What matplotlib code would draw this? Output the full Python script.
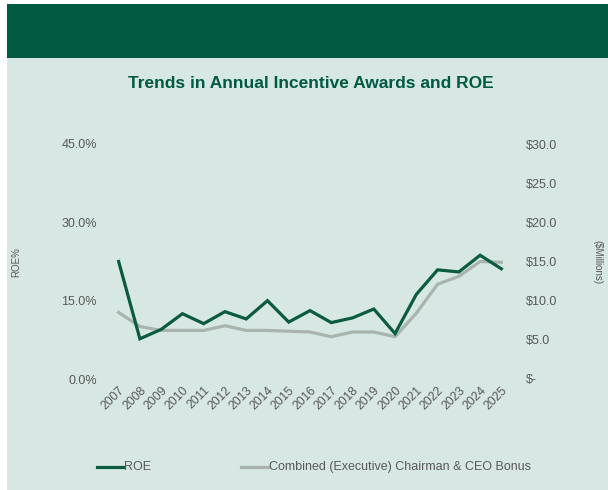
import matplotlib
matplotlib.use("Agg")
import matplotlib.pyplot as plt
from matplotlib.patches import Rectangle
from matplotlib.lines import Line2D
from matplotlib.ticker import FixedLocator

plt.rcParams['font.family'] = ['Liberation Sans', 'DejaVu Sans']

years = [str(y) for y in range(2007, 2026)]
roe_pct = [22.5, 7.7, 9.5, 12.5, 10.6, 12.9, 11.5, 15.0, 10.9, 13.1,
           10.8, 11.7, 13.4, 8.7, 16.2, 20.9, 20.5, 23.7, 21.1]
bonus_musd = [8.5, 6.7, 6.2, 6.2, 6.2, 6.8, 6.2, 6.2, 6.1, 6.0,
              5.4, 6.0, 6.0, 5.4, 8.4, 12.1, 13.1, 15.0, 14.9]
roe_ticks = [0, 15, 30, 45]
roe_tick_labels = ['0.0%', '15.0%', '30.0%', '45.0%']
bonus_ticks = [0, 5, 10, 15, 20, 25, 30]
bonus_tick_labels = ['$-', '$5.0', '$10.0', '$15.0', '$20.0', '$25.0', '$30.0']

BG = '#D7E7E3'
BAND = '#005A41'
ROE_C = '#0B5B3E'
BONUS_C = '#A8B4AD'
TXT = '#595959'

W, H = 608, 490
fig = plt.figure(figsize=(W / 100, H / 100), dpi=100, facecolor=BG)

# white margins on the left and top, dark green header band
fig.patches.append(Rectangle((0, 0), 7 / W, 1, transform=fig.transFigure,
                             facecolor='white', edgecolor='none', zorder=0))
fig.patches.append(Rectangle((0, 1 - 4 / H), 1, 4 / H, transform=fig.transFigure,
                             facecolor='white', edgecolor='none', zorder=0))
fig.patches.append(Rectangle((7 / W, 1 - 58 / H), 1 - 7 / W, 54 / H,
                             transform=fig.transFigure,
                             facecolor=BAND, edgecolor='none', zorder=0))

fig.text(311 / W, 1 - 83 / H, 'Trends in Annual Incentive Awards and ROE',
         ha='center', va='center', fontsize=12.5, fontweight='bold', color=BAND)

left, right = 108 / W, 512 / W
bottom, top = 1 - 379 / H, 1 - 144 / H
ax = fig.add_axes([left, bottom, right - left, top - bottom])
ax.set_facecolor('none')
ax2 = ax.twinx()

x = list(range(len(years)))
ax.plot(x, roe_pct, color=ROE_C, lw=2.3, zorder=3, solid_joinstyle='miter')
ax2.plot(x, bonus_musd, color=BONUS_C, lw=2.3, zorder=2)
ax.set_zorder(ax2.get_zorder() + 1)
ax.patch.set_visible(False)

ax.set_xlim(-0.5, len(years) - 0.5)
ax.set_ylim(0, 45)
ax2.set_ylim(0, 30)

ax.xaxis.set_major_locator(FixedLocator(x))
ax.set_xticklabels(years, rotation=45, ha='right', va='top',
                   rotation_mode='anchor', fontsize=8.7, color=TXT)
ax.set_yticks(roe_ticks)
ax.set_yticklabels(roe_tick_labels, fontsize=9, color=TXT)
ax2.set_yticks(bonus_ticks)
ax2.set_yticklabels(bonus_tick_labels, fontsize=9, color=TXT)

for a in (ax, ax2):
    for s in a.spines.values():
        s.set_visible(False)
    a.tick_params(length=0)
ax.tick_params(axis='y', pad=8)
ax2.tick_params(axis='y', pad=10)
ax.tick_params(axis='x', pad=4)
ax.axhline(0, color='#E4ECEA', lw=1, zorder=1)

fig.text(16 / W, 1 - 262 / H, 'ROE%', rotation=90, ha='center', va='center',
         fontsize=7, color=TXT)
fig.text(597 / W, 1 - 262 / H, '($Millions)', rotation=270, ha='center',
         va='center', fontsize=7, color=TXT)

# legend
ly = 1 - 467 / H
fig.add_artist(Line2D([97 / W, 123 / W], [ly, ly], color=ROE_C, lw=2.3,
                      transform=fig.transFigure))
fig.text(124 / W, ly, 'ROE', ha='left', va='center', fontsize=9, color=TXT)
fig.add_artist(Line2D([241 / W, 268 / W], [ly, ly], color=BONUS_C, lw=2.3,
                      transform=fig.transFigure))
fig.text(269 / W, ly, 'Combined (Executive) Chairman & CEO Bonus', ha='left',
         va='center', fontsize=9, color=TXT)

fig.savefig('out.png', dpi=100, facecolor=BG)
